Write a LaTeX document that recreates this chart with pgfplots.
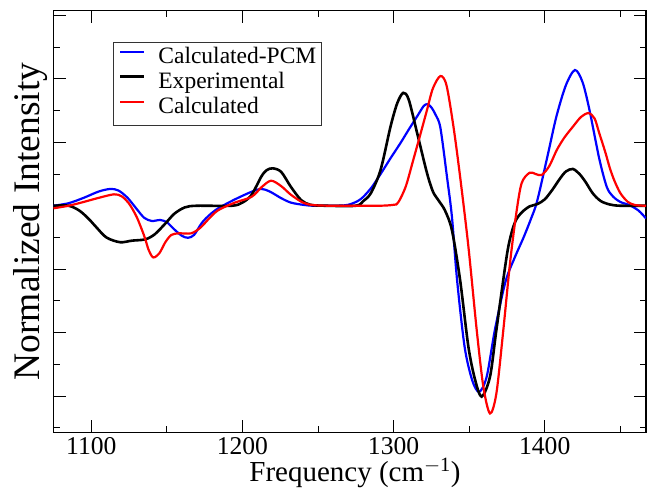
\documentclass[border=0pt]{standalone}
\usepackage{fontspec}
\setmainfont{Liberation Serif}
\usepackage{pgfplots}
\pgfplotsset{compat=1.18}
\begin{document}
\begin{tikzpicture}[x=1pt,y=1pt]
\begin{axis}[
  at={(0pt,0pt)}, anchor=south west,
  scale only axis, width=592.5pt, height=421.8pt,
  xmin=1075, xmax=1467, ymin=-7.15, ymax=6.15,
  xtick={1100,1200,1300,1400}, minor xtick={1150,1250,1350,1450},
  ytick={-6,-4,-2,0,2,4,6}, minor ytick={-7,-5,-3,-1,1,3,5},
  yticklabels={},
  tick align=inside, tick pos=both,
  major tick length=12pt, minor tick length=6pt,
  every tick/.style={black, line width=1pt},
  axis line style={line width=1.6pt},
  /pgf/number format/assume math mode=true,
  /pgf/number format/1000 sep={},
  xticklabel style={font=\fontsize{25.6}{28}\selectfont, anchor=base, yshift=-22.5pt, inner sep=0pt},
  every axis x label/.style={at={(rel axis cs:0.5088,-0.115)}, anchor=base, inner sep=0pt, font=\fontsize{29}{32}\selectfont},
  every axis y label/.style={at={(rel axis cs:-0.0228,0.5)}, anchor=base, rotate=90, font=\fontsize{37.5}{40}\selectfont},
  xlabel={Frequency (cm\textsuperscript{$-$1})},
  ylabel={Normalized Intensity},
  legend style={at={(rel axis cs:0.101,0.9265)}, anchor=north west, draw=black!80, line width=0.9pt, fill=white,
    inner xsep=5pt, inner ysep=4pt, font=\fontsize{23.5}{25}\selectfont, row sep=0pt,
    nodes={inner sep=0pt, text height=17pt, text depth=8pt},
    /tikz/every odd column/.append style={column sep=13pt}},
  legend image code/.code={\draw[#1] (3pt,7pt) -- (27pt,7pt);},
  legend cell align=left,
]
\addplot[blue, line width=2.2pt, smooth, tension=0.5] coordinates {
(1075,0)(1085,0.08)(1095,0.25)(1105,0.45)(1112.7,0.53)(1118,0.48)(1124,0.25)(1130,-0.1)(1135,-0.38)(1140,-0.48)(1145.6,-0.45)(1150,-0.52)(1155,-0.75)(1160,-0.95)(1164,-1.01)(1168,-0.92)(1173,-0.55)(1178,-0.3)(1184,-0.08)(1195,0.2)(1206,0.44)(1212.5,0.53)(1218,0.45)(1225.6,0.24)(1232,0.1)(1240,0.03)(1247,0)(1260,0)(1270,0.03)(1278,0.2)(1285,0.55)(1291,0.97)(1298,1.5)(1304.6,1.98)(1310,2.4)(1316,2.85)(1320,3.15)(1322.5,3.2)(1325,3.1)(1328,2.85)(1331,2.45)(1335.3,0.92)(1338.6,-0.35)(1342,-2.34)(1347,-4.45)(1352,-5.5)(1356.6,-5.87)(1361.6,-5.39)(1367,-3.92)(1374,-2.4)(1380,-1.65)(1386,-1.0)(1391,-0.4)(1395,0.15)(1402,1.6)(1407.7,2.81)(1414,3.8)(1420,4.28)(1425,3.9)(1429.6,3.02)(1436,1.5)(1441,0.6)(1445,0.3)(1450,0.12)(1456,0.02)(1462,-0.15)(1467,-0.4)
};
\addlegendentry{Calculated-PCM}
\addplot[black, line width=2.6pt, smooth, tension=0.5] coordinates {
(1075,0)(1085,0)(1092,-0.15)(1098,-0.4)(1103,-0.66)(1110,-1.0)(1119,-1.15)(1127,-1.1)(1135.7,-1.06)(1142,-0.9)(1149,-0.56)(1155,-0.25)(1162,-0.05)(1170,0)(1193,0)(1200,0.1)(1206,0.34)(1212.5,0.92)(1216,1.12)(1220,1.18)(1225.6,1.07)(1232,0.6)(1238.8,0.18)(1245,0.03)(1255,0)(1275,0)(1280,0.15)(1285,0.4)(1291.4,1.13)(1298,2.5)(1302.4,3.23)(1306.4,3.56)(1310,3.35)(1315.6,2.29)(1322,1.05)(1326,0.45)(1330,0.15)(1334,-0.15)(1338.6,-0.77)(1344,-2.34)(1349.5,-4.45)(1354,-5.5)(1358.3,-6.02)(1363.8,-5.39)(1368,-3.92)(1374.8,-1.6)(1378,-0.86)(1381,-0.45)(1385,-0.2)(1390,-0.02)(1395,0.05)(1400,0.2)(1405,0.5)(1410,0.85)(1414,1.08)(1418.6,1.16)(1423,1.0)(1427,0.75)(1431.8,0.39)(1437,0.15)(1443,0.04)(1450,0)(1467,0)
};
\addlegendentry{Experimental}
\addplot[red, line width=2.2pt, smooth, tension=0.5] coordinates {
(1075,-0.08)(1085,0)(1095,0.12)(1105,0.25)(1115,0.36)(1120,0.3)(1124.8,0.08)(1130,-0.35)(1135,-0.95)(1138,-1.4)(1141,-1.63)(1145,-1.5)(1149,-1.15)(1153,-0.92)(1158,-0.87)(1166,-0.87)(1172,-0.7)(1178,-0.4)(1184,-0.14)(1195,0.1)(1206,0.28)(1213,0.6)(1219,0.79)(1225.6,0.62)(1232,0.35)(1240,0.1)(1247,0.02)(1260,0)(1290,0)(1300,0.03)(1303,0.1)(1308,0.6)(1313,1.44)(1318,2.3)(1322,3.0)(1326,3.7)(1331,4.09)(1335,3.8)(1339.6,2.5)(1344,0.92)(1349.5,-1.29)(1355,-3.92)(1359.4,-5.71)(1363.8,-6.55)(1368,-5.92)(1372.6,-3.92)(1377,-1.82)(1381,-0.3)(1384.7,0.71)(1390,1.04)(1394,1.0)(1398,0.97)(1403,1.25)(1408,1.76)(1413,2.15)(1418.6,2.49)(1424,2.8)(1429,2.92)(1433,2.75)(1436,2.3)(1440,1.7)(1443,1.2)(1446,0.8)(1450,0.4)(1455,0.12)(1460,0.02)(1467,0)
};
\addlegendentry{Calculated}
\end{axis}
\path[use as bounding box] (-53.5pt,-56.5pt) rectangle (593.5pt,432.5pt);
\end{tikzpicture}
\end{document}
